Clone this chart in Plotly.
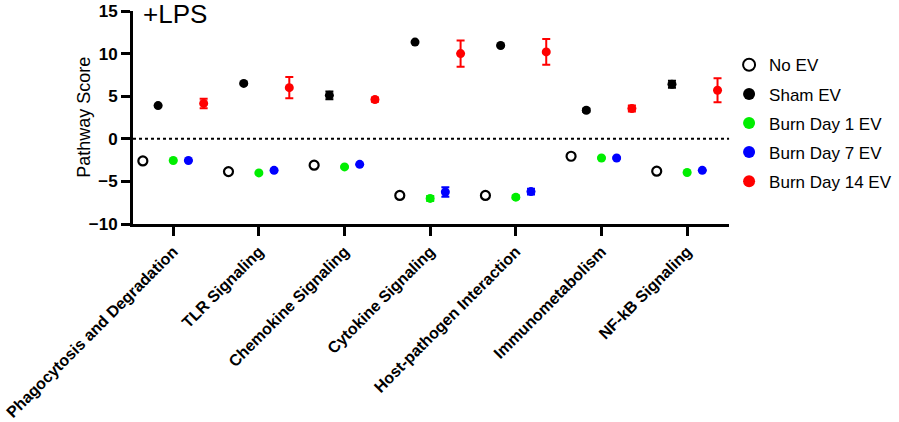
import plotly.graph_objects as go

categories = ["Phagocytosis and Degradation", "TLR Signaling", "Chemokine Signaling",
              "Cytokine Signaling", "Host-pathogen Interaction", "Immunometabolism",
              "NF-kB Signaling"]

no_ev = [-2.6, -3.85, -3.1, -6.65, -6.65, -2.05, -3.8]
sham_ev = [3.9, 6.5, 5.1, 11.35, 10.95, 3.35, 6.4]
sham_err = [0.1, 0.1, 0.45, 0.1, 0.1, 0.2, 0.4]
burn1_ev = [-2.55, -4.0, -3.3, -7.0, -6.85, -2.25, -3.95]
burn1_err = [0.05, 0.05, 0.05, 0.3, 0.2, 0.05, 0.05]
burn7_ev = [-2.55, -3.7, -3.0, -6.25, -6.2, -2.25, -3.7]
burn7_err = [0.05, 0.1, 0.05, 0.55, 0.35, 0.05, 0.05]
burn14_ev = [4.15, 6.0, 4.6, 10.0, 10.2, 3.55, 5.7]
burn14_err = [0.55, 1.25, 0.25, 1.55, 1.5, 0.35, 1.4]

offsets = [-0.355, -0.177, 0.0, 0.177, 0.355]
series = [
    ("No EV", no_ev, None, "black", "circle-open"),
    ("Sham EV", sham_ev, sham_err, "black", "circle"),
    ("Burn Day 1 EV", burn1_ev, burn1_err, "#00ee00", "circle"),
    ("Burn Day 7 EV", burn7_ev, burn7_err, "#0000ff", "circle"),
    ("Burn Day 14 EV", burn14_ev, burn14_err, "#ff0000", "circle"),
]

fig = go.Figure()
for (name, vals, err, color, sym), off in zip(series, offsets):
    xs = [i + off for i in range(len(categories))]
    marker = dict(color=color, size=9, symbol=sym)
    if sym == "circle-open":
        marker["line"] = dict(color=color, width=2.2)
    tr = dict(x=xs, y=vals, mode="markers", name=name, marker=marker, legendgroup=name)
    if err is not None:
        tr["error_y"] = dict(type="data", array=err, visible=True, color=color,
                             thickness=2, width=4)
    fig.add_trace(go.Scatter(**tr))

fig.add_shape(type="line", xref="paper", x0=0, x1=1, yref="y", y0=0, y1=0,
              line=dict(color="black", width=2, dash="dot"))

fig.add_annotation(text="+LPS", xref="paper", yref="paper", x=0.013, y=0.985,
                   xanchor="left", yanchor="middle", showarrow=False,
                   font=dict(size=26, color="black", family="Liberation Sans"))

fig.add_annotation(text="Pathway Score", xref="paper", yref="paper", x=-0.0835, y=0.5,
                   xanchor="center", yanchor="middle", showarrow=False, textangle=-90,
                   font=dict(size=18, color="black", family="Liberation Sans"))

fig.update_layout(
    width=899, height=422,
    margin=dict(l=133, r=167, t=11, b=198),
    plot_bgcolor="white", paper_bgcolor="white",
    font=dict(family="Liberation Sans", color="black"),
    showlegend=True,
    legend=dict(xref="container", yref="container", x=0.811, y=0.888,
                xanchor="left", yanchor="top",
                font=dict(size=17, color="black"), tracegroupgap=4,
                itemwidth=30, itemsizing="constant", bgcolor="rgba(0,0,0,0)"),
    xaxis=dict(range=[-0.47, 6.49], tickmode="array",
               tickvals=list(range(len(categories))), ticktext=categories,
               tickangle=-45, showline=True, linecolor="black", linewidth=3,
               ticks="outside", ticklen=9, tickwidth=3, tickcolor="black",
               showgrid=False, zeroline=False, automargin=False,
               tickfont=dict(size=16, weight="bold", color="black")),
    yaxis=dict(range=[-10, 15], tickvals=[-10, -5, 0, 5, 10, 15],
               showline=True, linecolor="black", linewidth=3,
               ticks="outside", ticklen=9, tickwidth=3, tickcolor="black",
               showgrid=False, zeroline=False, automargin=False,
               tickfont=dict(size=17, weight="bold", color="black")),
)

fig.write_html("out.html", config={"displayModeBar": False},
               post_script="document.body.style.margin='0px';")
